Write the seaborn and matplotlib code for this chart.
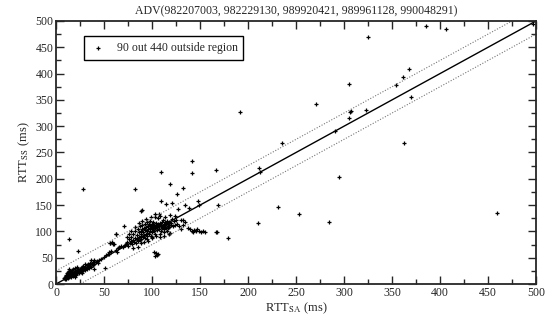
import numpy as np
import pandas as pd
import matplotlib as mpl
import matplotlib.pyplot as plt
import seaborn as sns

# low band near the origin
low_sa = [8, 9, 10, 10, 11, 11, 12, 12, 13, 13, 13, 14, 14, 15, 15, 15, 16, 16, 17, 17,
          18, 18, 18, 19, 19, 20, 20, 20, 21, 21, 22, 22, 23, 23, 24, 24, 25, 25, 26, 26,
          27, 27, 28, 28, 29, 30, 30, 31, 32, 32, 33, 34, 35, 35, 36, 37, 38, 38, 39, 40,
          40, 42, 43, 44, 45, 12, 16, 14, 22, 27, 33, 20, 30, 36, 10, 9, 40, 51, 13, 23]
low_ss = [12, 14, 15, 18, 13, 20, 16, 22, 14, 19, 24, 17, 21, 15, 19, 25, 18, 22, 20, 26,
          16, 21, 28, 19, 23, 22, 25, 30, 18, 24, 21, 27, 23, 29, 20, 26, 24, 28, 22, 30,
          25, 32, 27, 35, 29, 26, 33, 30, 28, 36, 33, 31, 35, 40, 33, 38, 36, 42, 40, 38,
          45, 41, 44, 40, 46, 12, 14, 28, 33, 20, 38, 14, 38, 45, 10, 9, 29, 30, 86, 63]

# middle band
mid_sa = [47, 50, 52, 54, 55, 56, 58, 60, 62, 63, 65, 66, 68, 70, 72, 55, 57, 59, 62, 71,
          73, 28, 82, 89, 90, 56]
mid_ss = [48, 52, 55, 57, 60, 78, 80, 76, 65, 60, 68, 70, 72, 71, 75, 57, 62, 76, 95, 110,
          76, 181, 181, 139, 141, 78]

# dense cluster around 100 ms
blob_sa = [72, 74, 75, 76, 77, 78, 78, 79, 80, 80, 81, 82, 82, 83, 84, 84, 85, 85, 86, 86,
           87, 87, 88, 88, 89, 89, 90, 90, 91, 91, 92, 92, 93, 93, 93, 94, 94, 95, 95, 95,
           96, 96, 97, 97, 98, 98, 98, 99, 99, 100, 100, 100, 101, 101, 102, 102, 103, 103, 103, 104,
           104, 105, 105, 106, 106, 107, 107, 108, 108, 109, 109, 110, 110, 111, 111, 112, 112, 113, 113, 114,
           114, 115, 115, 116, 117, 117, 118, 118, 119, 120, 120, 121, 122, 123, 124, 125, 96, 92, 88, 100,
           104, 108, 112, 116, 85, 80, 99, 94, 90, 86, 82, 78, 76, 74, 126, 128, 130, 132, 134, 95,
           100, 108, 112, 118, 97, 101, 105, 109, 113, 117]
blob_ss = [74, 80, 72, 85, 78, 82, 90, 76, 84, 95, 80, 88, 100, 78, 86, 93, 82, 105, 90, 98,
           84, 110, 92, 100, 86, 96, 104, 112, 90, 98, 94, 106, 88, 102, 115, 96, 108, 92, 100, 118,
           104, 110, 95, 114, 100, 106, 120, 92, 110, 98, 104, 115, 108, 118, 100, 112, 96, 106, 128, 110,
           116, 102, 108, 114, 126, 104, 110, 116, 130, 100, 112, 106, 118, 110, 122, 104, 114, 118, 108, 112,
           127, 106, 116, 120, 110, 114, 118, 108, 131, 112, 116, 124, 110, 119, 112, 122, 82, 80, 78, 88,
           92, 96, 98, 100, 70, 68, 128, 124, 120, 116, 108, 100, 96, 90, 114, 110, 121, 112, 118, 85,
           90, 90, 92, 96, 112, 114, 113, 111, 109, 107]

# small clusters below the line
side_sa = [102, 104, 105, 106, 103, 137, 140, 142, 144, 146, 147, 149, 151, 153, 155, 143, 167, 168, 179]
side_ss = [60, 58, 55, 57, 53, 106, 104, 101, 103, 100, 105, 101, 99, 100, 99, 98, 99, 99, 87]

# scattered points
out_sa = [385, 406, 325, 368, 361, 354, 305, 370, 271, 307, 306, 323, 305, 291, 362, 235, 211, 497,
          212, 295, 231, 253, 210, 284, 459, 192, 142, 167, 109, 142, 119, 132, 126, 109, 121, 115,
          148, 134, 169, 138, 103, 107, 124, 132, 118, 119, 130, 127, 149, 62]
out_ss = [490, 485, 470, 409, 394, 378, 380, 356, 342, 329, 327, 331, 316, 291, 268, 268, 220, 495,
          213, 203, 146, 133, 116, 118, 135, 327, 234, 217, 213, 211, 190, 183, 171, 158, 154, 152,
          158, 150, 150, 144, 133, 133, 129, 122, 112, 97, 105, 143, 150, 95]

df = pd.DataFrame({
    "sa": low_sa + mid_sa + blob_sa + side_sa + out_sa,
    "ss": low_ss + mid_ss + blob_ss + side_ss + out_ss,
})

sns.set_style("ticks")
plt.rcParams['font.family'] = ['Liberation Serif', 'DejaVu Serif']
plt.rcParams['mathtext.fontset'] = 'stix'

fig = plt.figure(figsize=(5.45, 3.18), dpi=100)
ax = fig.add_axes([0.1028, 0.1069, 0.8807, 0.8271])

ref = np.array([0, 500])
ax.plot(ref, ref, color="black", lw=1)
ax.plot(ref, ref + 25, color="#777777", lw=0.8, ls=(0, (1, 1.5)))
ax.plot(ref, ref - 25, color="#777777", lw=0.8, ls=(0, (1, 1.5)))

sns.scatterplot(data=df, x="sa", y="ss", marker="+", s=10, color="black",
                linewidth=0.9, ax=ax, label="90 out 440 outside region")

ax.set_xlim(0, 500)
ax.set_ylim(0, 500)
ax.set_xticks(np.arange(0, 501, 50))
ax.set_yticks(np.arange(0, 501, 50))
ax.xaxis.set_minor_locator(mpl.ticker.MultipleLocator(25))
ax.yaxis.set_minor_locator(mpl.ticker.MultipleLocator(25))
ax.tick_params(which="both", direction="in", top=True, right=True, width=1, labelsize=8.5, pad=2)
ax.tick_params(which="major", length=6)
ax.tick_params(which="minor", length=3.5)
for s in ax.spines.values():
    s.set_linewidth(1.3)

ax.set_xlabel(r"RTT$_{\mathrm{SA}}$ (ms)", fontsize=9, labelpad=1)
ax.set_ylabel(r"RTT$_{\mathrm{SS}}$ (ms)", fontsize=9, labelpad=2)
ax.set_title("ADV(982207003, 982229130, 989920421, 989961128, 990048291)", fontsize=8.5, pad=5)

leg = ax.legend(loc="upper left", bbox_to_anchor=(0.045, 0.965), fontsize=8.5, fancybox=False,
                framealpha=1, edgecolor="black", borderpad=0.5, handlelength=1.5, markerscale=1.0)
leg.get_frame().set_linewidth(1.0)

fig.savefig("out.png", dpi=100)
